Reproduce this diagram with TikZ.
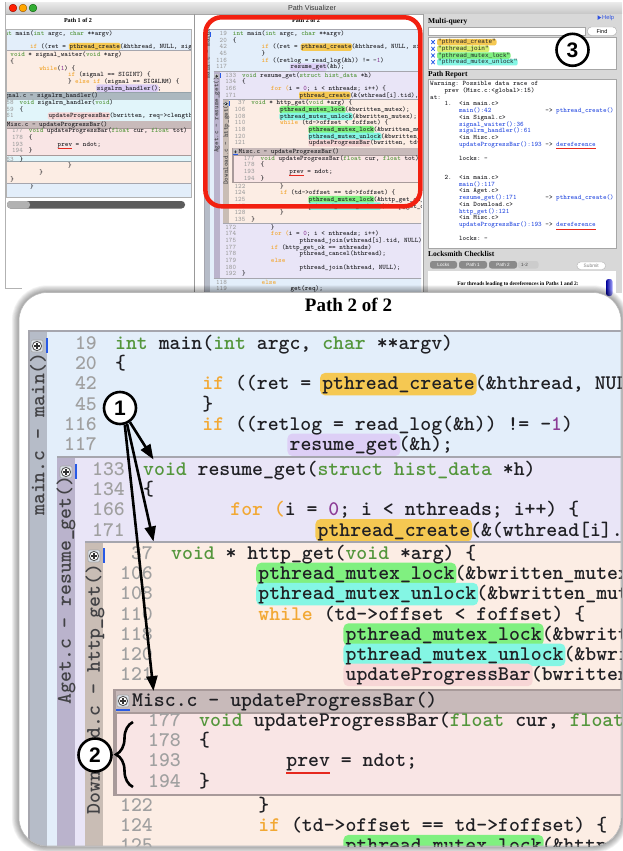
\documentclass[tikz,border=0pt]{standalone}
\usepackage{fontspec}
\setmainfont{Liberation Serif}
\setsansfont{Liberation Sans}
\newfontfamily\lmono{Liberation Mono}
\usetikzlibrary{arrows.meta,decorations.pathreplacing}
\definecolor{mainbg}{RGB}{227,238,250}
\definecolor{mainside}{RGB}{182,188,200}
\definecolor{agetbg}{RGB}{233,229,247}
\definecolor{agetside}{RGB}{186,179,204}
\definecolor{dlbg}{RGB}{252,237,228}
\definecolor{dlside}{RGB}{201,189,181}
\definecolor{miscframe}{RGB}{168,154,154}
\definecolor{mischead}{RGB}{200,186,186}
\definecolor{miscbody}{RGB}{249,229,229}
\definecolor{sigframe}{RGB}{150,163,170}
\definecolor{sighead}{RGB}{172,184,191}
\definecolor{sigbody}{RGB}{225,245,250}
\definecolor{blockline}{RGB}{166,166,174}
\definecolor{ctype}{RGB}{84,150,60}
\definecolor{ckw}{RGB}{242,168,52}
\definecolor{cnum}{RGB}{140,60,150}
\definecolor{cgray}{RGB}{160,160,160}
\definecolor{ctext}{RGB}{32,32,36}
\definecolor{hlcreate}{RGB}{245,200,82}
\definecolor{hlresume}{RGB}{221,207,246}
\definecolor{hllock}{RGB}{128,240,128}
\definecolor{hlunlock}{RGB}{132,246,228}
\definecolor{hlupd}{RGB}{247,214,214}
\definecolor{hljoin}{RGB}{216,238,112}
\definecolor{ulred}{RGB}{230,40,30}
\definecolor{cursorblue}{RGB}{40,90,230}
\definecolor{linkblue}{RGB}{45,80,225}
\definecolor{frred}{RGB}{242,32,16}
\definecolor{panegray}{RGB}{216,216,216}
\definecolor{iconbg}{RGB}{221,227,234}
\definecolor{tabgray}{RGB}{138,138,138}
\newcounter{autonode}
\newcommand\codefont{\fontsize{20.76}{24}\selectfont\ttfamily\bfseries\frenchspacing}
\newcommand\rfont{\fontsize{6.86}{8}\selectfont\ttfamily\bfseries\frenchspacing}
\newcommand\CW{10.9}
\newcommand\LW{1}
\newcommand\cT[1]{\textcolor{ctype}{#1}}
\newcommand\cK[1]{\textcolor{ckw}{#1}}
\newcommand\cN[1]{\textcolor{cnum}{#1}}
\newcommand\cB[1]{\textcolor{linkblue}{#1}}
\tikzset{
 autoname/.code={\stepcounter{autonode}\pgfkeysalso{/tikz/name=an\arabic{autonode}}},
 lnum/.style={anchor=base east, inner sep=0, text=cgray, font=\codefont, autoname},
 lcode/.style={anchor=base west, inner sep=0, text=ctext, font=\codefont, autoname},
 sidelab/.style={inner sep=0, text=ctext!85!white, font=\codefont, autoname},
 rep/.style={anchor=base west, inner sep=0, text=ctext, font=\rfont, autoname},
 entry/.style={anchor=base west, inner sep=0, text=ctext, font=\lmono\fontsize{6}{7}\selectfont, autoname},
 hdr/.style={anchor=base west, inner sep=0, text=black, font=\fontsize{7.5}{8}\selectfont\bfseries},
 badge/.style={circle, draw=black, line width=2.6pt, fill=white, minimum size=32pt, inner sep=0,
   font=\fontsize{21}{21}\selectfont\sffamily\bfseries},
 arr/.style={line width=2.6pt, -{Triangle[length=15pt,width=11pt]}},
 brc/.style={decorate, decoration={brace, amplitude=17pt, aspect=0.5}, line width=2.6pt},
}
% one code line: num-right-x, code-x, row, number, column, text
\newcommand\CL[6]{%
  \node[lnum] at (#1,#3+4.5) {#4};
  \node[lcode] at ({#2+#5*\CW},#3+4.5) {#6};}
% highlight: code-x, column, ncols, row, colour
\newcommand\HLt[5]{%
  \fill[#5, rounded corners={\LW*5pt}] ({#1+#2*\CW-2},#4-12.5) rectangle ({#1+(#2+#3)*\CW+2},#4+10);}
\newcommand\UL[4]{%
  \draw[ulred, line width={\LW*2.2pt}] ({#1+#2*\CW},#4+10.5) -- ({#1+(#2+#3)*\CW},#4+10.5);}
\newcommand\SideBlock[5]{%
  \fill[#4] (#1,#2) rectangle (760,#3);
  \fill[#5] (#1,#2) rectangle (#1+18,#3);
  \draw[blockline, line width={\LW*2.5pt}] (#1,#2) -- (760,#2);
  \draw[blockline, line width={\LW*2.5pt}] (#1,#3) -- (760,#3);}
\newcommand\HeadBlock[6]{%
  \fill[#4] (#1,#2) rectangle (760,#3);
  \fill[#5] (#1+2.5,#2+2) rectangle (760,#2+22.5);
  \fill[#6] (#1+4,#2+24.5) rectangle (760,#3-2.5);}
\newcommand\PlusIcon[2]{%
  \fill[iconbg, draw=gray!70, line width={\LW*0.6pt}, rounded corners={\LW*2pt}] (#1-6,#2-6) rectangle (#1+6,#2+6);
  \draw[black!65, fill=white, line width={\LW*0.9pt}] (#1,#2) circle[radius=4.6];
  \draw[black!80, line width={\LW*1.3pt}] (#1-2.8,#2) -- (#1+2.8,#2) (#1,#2-2.8) -- (#1,#2+2.8);}
% ---------- listing of path 2 (local coordinates) ----------
\newcommand\PathTwo[2]{%
  \fill[mainbg] (0,0) rectangle (760,820);
  \fill[mainside] (0,0) rectangle (18,820);
  \draw[blockline, line width={\LW*2.5pt}] (760,0) -- (0,0) -- (0,820);
  \PlusIcon{8}{15}
  \fill[cursorblue] (17,7) rectangle (18.6,22);
  \node[sidelab, rotate=90] at (9,#1) {main.c - main()};
  \HLt{86}{19}{14}{54.4}{hlcreate}
  \HLt{86}{16}{10}{115}{hlresume}
  \CL{68}{86}{14}{19}{0}{\cT{int} main(\cT{int} argc, \cT{char} **argv)}
  \CL{68}{86}{34.2}{20}{0}{\{}
  \CL{68}{86}{54.4}{42}{8}{\cK{if} ((ret = pthread\_create(\&hthread, NULL, signal\_waiter, NULL)))}
  \CL{68}{86}{74.6}{45}{8}{\}}
  \CL{68}{86}{94.8}{116}{8}{\cK{if} ((retlog = read\_log(\&h)) != -\cN{1})}
  \CL{68}{86}{115}{117}{16}{resume\_get(\&h);}
  \CL{68}{86}{767}{118}{8}{\cK{else}}
  \CL{68}{86}{787.2}{119}{16}{get(req);}
  % Aget
  \SideBlock{28}{126}{754}{agetbg}{agetside}
  \PlusIcon{37}{141}
  \fill[cursorblue] (46,133) rectangle (47.6,148);
  \node[sidelab, rotate=90] at (37,259) {Aget.c - resume\_get()};
  \HLt{114}{16}{14}{200.6}{hlcreate}
  \CL{96}{114}{140}{133}{0}{\cT{void} resume\_get(\cT{struct hist\_data} *h)}
  \CL{96}{114}{160.2}{134}{0}{\{}
  \CL{96}{114}{180.4}{166}{8}{\cK{for (}i = \cN{0}; i < nthreads; i++) \{}
  \CL{96}{114}{200.6}{171}{16}{pthread\_create(\&(wthread[i].tid), NULL, http\_get, \&(wthread[i]));}
  \CL{96}{114}{601}{172}{8}{\}}
  \CL{96}{114}{621.2}{174}{8}{\cK{for (}i = \cN{0}; i < nthreads; i++)}
  \CL{96}{114}{641.4}{175}{16}{pthread\_join(wthread[i].tid, NULL);}
  \CL{96}{114}{661.6}{177}{8}{\cK{if} (http\_get\_ok == nthreads)}
  \CL{96}{114}{681.8}{178}{16}{pthread\_cancel(hthread);}
  \CL{96}{114}{702}{179}{8}{\cK{else}}
  \CL{96}{114}{722.2}{180}{16}{pthread\_join(hthread, NULL);}
  \CL{96}{114}{742.4}{192}{0}{\}}
  % Download
  \SideBlock{56}{211}{588}{dlbg}{dlside}
  \PlusIcon{65}{225}
  \fill[cursorblue] (74,217) rectangle (75.6,232);
  \node[sidelab, rotate=90] at (66,#2) {Download.c - http\_get()};
  \HLt{142}{8}{18}{244.2}{hllock}
  \HLt{142}{8}{20}{264.4}{hlunlock}
  \HLt{142}{16}{18}{304.8}{hllock}
  \HLt{142}{16}{20}{325}{hlunlock}
  \HLt{142}{16}{17}{345.2}{hlupd}
  \HLt{142}{16}{18}{516.4}{hllock}
  \HLt{142}{16}{20}{536.6}{hlunlock}
  \CL{124}{142}{224}{37}{0}{\cT{void} * http\_get(\cT{void} *arg) \{}
  \CL{124}{142}{244.2}{106}{8}{pthread\_mutex\_lock(\&bwritten\_mutex);}
  \CL{124}{142}{264.4}{108}{8}{pthread\_mutex\_unlock(\&bwritten\_mutex);}
  \CL{124}{142}{284.6}{110}{8}{\cK{while} (td->offset < foffset) \{}
  \CL{124}{142}{304.8}{118}{16}{pthread\_mutex\_lock(\&bwritten\_mutex);}
  \CL{124}{142}{325}{120}{16}{pthread\_mutex\_unlock(\&bwritten\_mutex);}
  \CL{124}{142}{345.2}{121}{16}{updateProgressBar(bwritten, td->clength);}
  \CL{124}{142}{476}{122}{8}{\}}
  \CL{124}{142}{496.2}{124}{8}{\cK{if} (td->offset == td->foffset) \{}
  \CL{124}{142}{516.4}{125}{16}{pthread\_mutex\_lock(\&http\_get\_ok\_mutex);}
  \CL{124}{142}{536.6}{127}{16}{pthread\_mutex\_unlock(\&http\_get\_ok\_mutex);}
  \CL{124}{142}{556.8}{128}{8}{\}}
  \CL{124}{142}{577}{135}{0}{\}}
  % Misc
  \HeadBlock{84}{358}{465}{miscframe}{mischead}{miscbody}
  \PlusIcon{94}{370}
  \fill[cursorblue] (87,378) rectangle (101,379.6);
  \node[lcode] at (103,375.5) {Misc.c - updateProgressBar()};
  \UL{170}{8}{4}{431.4}
  \CL{152}{170}{391}{177}{0}{\cT{void} updateProgressBar(\cT{float} cur, \cT{float} tot)}
  \CL{152}{170}{411.2}{178}{0}{\{}
  \CL{152}{170}{431.4}{193}{8}{prev = ndot;}
  \CL{152}{170}{451.6}{194}{0}{\}}
}
% ---------- listing of path 1 (local coordinates) ----------
\newcommand\PathOne{%
  \fill[mainbg] (0,0) rectangle (760,520);
  \draw[blockline, line width={\LW*2.5pt}] (0,0) -- (760,0);
  \HLt{86}{19}{14}{54.4}{hlcreate}
  \CL{68}{86}{14}{19}{0}{\cT{int} main(\cT{int} argc, \cT{char} **argv)}
  \CL{68}{86}{34.2}{20}{0}{\{}
  \CL{68}{86}{54.4}{42}{8}{\cK{if} ((ret = pthread\_create(\&hthread, NULL, signal\_waiter, NULL)))}
  \CL{68}{86}{480}{}{8}{\}}
  \SideBlock{28}{65.5}{467}{dlbg}{dlside}
  \HLt{114}{24}{17}{180.5}{hlresume}
  \CL{96}{114}{79.5}{}{0}{\cT{void} * signal\_waiter(\cT{void} *arg)}
  \CL{96}{114}{99.7}{}{0}{\{}
  \CL{96}{114}{119.9}{}{8}{\cK{while}(\cN{1}) \{}
  \CL{96}{114}{140.1}{}{16}{\cK{if} (signal == SIGINT) \{}
  \CL{96}{114}{160.3}{}{16}{\} \cK{else if} (signal == SIGALRM) \{}
  \CL{96}{114}{180.5}{}{24}{sigalrm\_handler();}
  \CL{96}{114}{416}{}{16}{\}}
  \CL{96}{114}{436.2}{}{8}{\}}
  \CL{96}{114}{456.4}{}{0}{\}}
  \HeadBlock{56}{191.5}{403}{sigframe}{sighead}{sigbody}
  \node[lcode] at (75,209) {Signal.c - sigalrm\_handler()};
  \HLt{142}{8}{17}{264.9}{hlupd}
  \CL{124}{142}{224.5}{58}{0}{\cT{void} sigalrm\_handler(\cT{void})}
  \CL{124}{142}{244.7}{59}{0}{\{}
  \CL{124}{142}{264.9}{61}{8}{updateProgressBar(bwritten, req->clength);}
  \CL{124}{142}{395.5}{63}{0}{\}}
  \HeadBlock{84}{277.5}{383.5}{miscframe}{mischead}{miscbody}
  \node[lcode] at (103,295) {Misc.c - updateProgressBar()};
  \UL{170}{8}{4}{350.9}
  \CL{152}{170}{310.5}{177}{0}{\cT{void} updateProgressBar(\cT{float} cur, \cT{float} tot)}
  \CL{152}{170}{330.7}{178}{0}{\{}
  \CL{152}{170}{350.9}{193}{8}{prev = ndot;}
  \CL{152}{170}{371.1}{194}{0}{\}}
}
\newcommand\RL[3]{\node[rep] at ({430+#1*3.6},#2+1.5) {#3};}
\begin{document}
\begin{tikzpicture}[x=1pt,y=-1pt]
\useasboundingbox (0,0) rectangle (622,851);
\fill[white] (0,0) rectangle (622,851);
% ===== background window =====
\shade[top color={rgb,255:red,234;green,234;blue,234}, bottom color={rgb,255:red,198;green,198;blue,198}] (5,2.5) rectangle (622,14);
\draw[gray!70, line width=0.5] (5,14) -- (622,14);
\draw[gray!60, line width=0.6] (5.5,2.5) -- (5.5,288) -- (22,288);
\fill[red!75!orange, draw=red!50!black, line width=0.3] (13,8) circle[radius=3.9];
\fill[orange!70!yellow, draw=orange!50!black, line width=0.3] (23,8) circle[radius=3.9];
\fill[green!60!black!80, draw=green!30!black, line width=0.3] (33,8) circle[radius=3.9];
\node[font=\fontsize{7.2}{8}\selectfont\sffamily, text=black!80, inner sep=0] (wtitle) at (312,8.3) {Path Visualizer};
% left pane
\node[font=\fontsize{6.1}{7}\selectfont\bfseries, anchor=base, inner sep=0] (p1title) at (78,22.6) {Path 1 of 2};
\begin{scope}
  \clip (6,29) rectangle (191,197);
  \begin{scope}[shift={(-27.2,29)}, scale=0.33, transform shape]
    \renewcommand\LW{0.33}
    \PathOne
  \end{scope}
\end{scope}
\draw[gray!60, line width=0.5] (6,29) rectangle (191,197);
\fill[black!64, rounded corners=3.5] (7,201) rectangle (185,208.5);
\fill[black!30, rounded corners=3.5] (7,201) rectangle (30,208.5);
\draw[gray!80, line width=0.6] (194.5,14) -- (194.5,293);
% middle pane
\node[font=\fontsize{6.1}{7}\selectfont\bfseries, anchor=base, inner sep=0] (p2title) at (306,22.5) {Path 2 of 2};
\begin{scope}
  \clip (204,29) rectangle (421,293);
  \begin{scope}[shift={(204.5,29.5)}, scale=0.33, transform shape]
    \renewcommand\LW{0.33}
    \PathTwo{68}{345}
  \end{scope}
\end{scope}
% right pane
\fill[panegray] (423,14.3) rectangle (622,293);
\draw[gray!75, line width=0.5] (423,14.3) -- (423,293);
\node[hdr] (mq) at (428,24) {Multi-query};
\fill[linkblue] (597.5,15.3) -- (601.3,17.6) -- (597.5,19.9) -- cycle;
\node[anchor=base west, inner sep=0, text=linkblue, font=\fontsize{5.8}{6}\selectfont\sffamily] (help) at (602,19.9) {Help};
\draw[gray!70, fill=white, line width=0.4] (428,27) rectangle (585,35);
\draw[gray!70, fill=white, line width=0.4, rounded corners=3.7] (587.5,27) rectangle (616.5,35.5);
\node[font=\fontsize{5.5}{6}\selectfont\sffamily, inner sep=0] (find) at (602,31.3) {Find};
\draw[gray!70, fill=white, line width=0.4] (428,37.5) rectangle (616,69);
\fill[hlcreate, rounded corners=2] (437,38.9) rectangle (496.5,45.4);
\fill[hljoin, rounded corners=2] (437,45.6) rectangle (489.3,52.1);
\fill[hllock, rounded corners=2] (437,52.3) rectangle (510.5,58.8);
\fill[hlunlock, rounded corners=2] (437,59) rectangle (517.7,65.5);
\foreach \yy in {42.1,48.8,55.5,62.2} {
  \draw[cursorblue, line width=0.8] (431.3,\yy-1.9) -- (434.7,\yy+1.9) (431.3,\yy+1.9) -- (434.7,\yy-1.9);}
\node[entry] at (438,43.7) {"pthread\_create"};
\node[entry] at (438,50.4) {"pthread\_join"};
\node[entry] at (438,57.1) {"pthread\_mutex\_lock"};
\node[entry] at (438,63.8) {"pthread\_mutex\_unlock"};
\node[hdr] (pr) at (428,76.8) {Path Report};
\draw[gray!70, fill=white, line width=0.4] (428,79.5) rectangle (616,248);
\RL{0}{84}{Warning: Possible data race of}
\RL{4}{91}{prev (Misc.c:<global>:15)}
\RL{0}{97.7}{at:}
\RL{4}{104.4}{1.}\RL{8}{104.4}{<in main.c>}
\RL{8}{111.1}{\cB{main():42}}\RL{32}{111.1}{->}\RL{35}{111.1}{\cB{pthread\_create()}}
\RL{8}{117.8}{<in Signal.c>}
\RL{8}{124.5}{\cB{signal\_waiter():36}}
\RL{8}{131.2}{\cB{sigalrm\_handler():61}}
\RL{8}{137.9}{<in Misc.c>}
\RL{8}{144.6}{\cB{updateProgressBar():193}}\RL{32}{144.6}{->}\RL{35}{144.6}{\cB{dereference}}
\draw[ulred, line width=0.8] (556,148.6) -- (595.6,148.6);
\RL{8}{158.5}{locks: -}
\RL{4}{178}{2.}\RL{8}{178}{<in main.c>}
\RL{8}{184.7}{\cB{main():117}}
\RL{8}{191.4}{<in Aget.c>}
\RL{8}{198.1}{\cB{resume\_get():171}}\RL{32}{198.1}{->}\RL{35}{198.1}{\cB{pthread\_create()}}
\RL{8}{204.8}{<in Download.c>}
\RL{8}{211.5}{\cB{http\_get():121}}
\RL{8}{218.2}{<in Misc.c>}
\RL{8}{224.9}{\cB{updateProgressBar():193}}\RL{32}{224.9}{->}\RL{35}{224.9}{\cB{dereference}}
\draw[ulred, line width=0.8] (556,228.9) -- (595.6,228.9);
\RL{8}{239}{locks: -}
\node[hdr] (lc) at (428,256.6) {Locksmith Checklist};
\fill[tabgray, rounded corners=2.5] (430,261) rectangle (457,268.5);
\fill[tabgray, rounded corners=2.5] (459,261) rectangle (487,268.5);
\fill[tabgray, rounded corners=2.5] (489,261) rectangle (517,268.5);
\fill[black!20, rounded corners=2.5] (518,261) rectangle (538.5,268.5);
\node[font=\fontsize{4.6}{5}\selectfont\sffamily, text=white, inner sep=0] (tab1) at (443.5,264.8) {Locks};
\node[font=\fontsize{4.6}{5}\selectfont\sffamily, text=white, inner sep=0] (tab2) at (473,264.8) {Path 1};
\node[font=\fontsize{4.6}{5}\selectfont\sffamily, text=white, inner sep=0] (tab3) at (503,264.8) {Path 2};
\node[font=\fontsize{4.6}{5}\selectfont\sffamily, text=black!75, inner sep=0] (tab4) at (524.5,264.8) {1-2};
\draw[gray!60, fill=white, line width=0.4, rounded corners=3.5] (577,262) rectangle (605.5,269.5);
\node[font=\fontsize{4.8}{5}\selectfont\sffamily, text=black!50, inner sep=0] (submit) at (591.2,265.8) {Submit};
\fill[white] (428,270.5) rectangle (616,295);
\node[font=\fontsize{5.4}{6}\selectfont\bfseries, anchor=base, inner sep=0] (fortxt) at (518,285.3) {For threads leading to dereferences in Paths 1 and 2:};
\shade[left color=blue!60!black, right color=blue!35!white, rounded corners=2.5] (606,279) rectangle (612.5,296);
% red frame
\draw[frred, line width=4.5pt, rounded corners=16] (205.4,17.3) rectangle (420.3,206.3);
\node[badge] (c3) at (572.5,49.8) {3};
% ===== foreground magnified panel =====
\foreach \i in {1,...,9} {
  \draw[black, opacity=0.045, line width=\i*1.6pt, rounded corners=28] (19,292.5) rectangle (621,846);}
\fill[white, rounded corners=28] (19,292.5) rectangle (621,846);
\begin{scope}
  \clip[rounded corners=28] (19,292.5) rectangle (621,846);
  \node[font=\fontsize{19}{19}\selectfont\bfseries, anchor=base, inner sep=0] (fgtitle) at (348.5,311) {Path 2 of 2};
  \begin{scope}[shift={(29,331)}]
    \PathTwo{103}{358}
  \end{scope}
\end{scope}
\draw[gray!55, line width=0.6, rounded corners=28] (19,292.5) rectangle (621,846);
% annotations
\node[badge] (c1) at (120,408) {1};
\coordinate (a1) at (153.5,459.5);
\coordinate (a2) at (153.5,541.5);
\coordinate (a3) at (153.5,691);
\draw[arr] (c1.-55) -- (a1);
\draw[arr] (c1.-66) -- (a2);
\draw[arr] (c1.-74) -- (a3);
\node[badge, minimum size=33pt] (c2) at (95,755) {2};
\coordinate (b2top) at (133,722);
\coordinate (b2bot) at (133,787);
\draw[brc] (b2bot) -- (b2top);
\end{tikzpicture}
\end{document}
